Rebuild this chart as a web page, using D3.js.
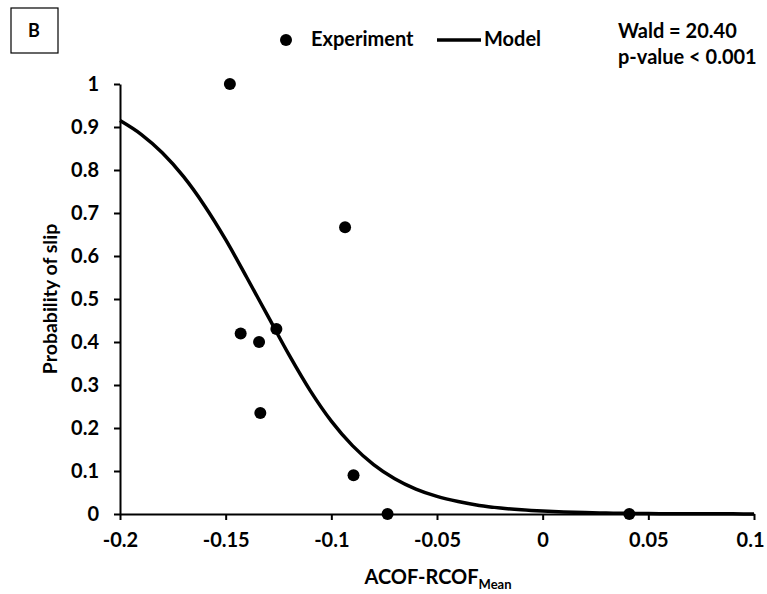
<!DOCTYPE html>
<html>
<head>
<meta charset="utf-8">
<script src="https://cdn.jsdelivr.net/npm/d3@7"></script>
<style>
  body { margin: 0; background: #fff; }
  text { font-family: Lato, "Open Sans", sans-serif; font-weight: 700; fill: #000; }
</style>
</head>
<body>
<div id="chart"></div>
<script>
// experiment points (ACOF-RCOF mean vs probability of slip)
const expX = [-0.148, -0.1429, -0.1342, -0.126, -0.1336, -0.0935, -0.0895, -0.0734, 0.041];
const expY = [1, 0.42, 0.40, 0.43, 0.235, 0.667, 0.09, 0, 0];

// model curve
const modelX = [-0.2, -0.19, -0.18, -0.17, -0.16, -0.15, -0.14, -0.13, -0.12, -0.11,
  -0.1, -0.09, -0.08, -0.07, -0.06, -0.05, -0.04, -0.03, -0.02, -0.01,
  0, 0.01, 0.02, 0.03, 0.04, 0.05, 0.06, 0.07, 0.08, 0.09, 0.1];
const modelY = [0.915, 0.883, 0.840, 0.785, 0.717, 0.638, 0.550, 0.460, 0.370, 0.287,
  0.216, 0.159, 0.115, 0.082, 0.058, 0.041, 0.029, 0.020, 0.014, 0.0097,
  0.0067, 0.0046, 0.0032, 0.0022, 0.0015, 0.0011, 0.0007, 0.0005, 0.0004, 0.0003, 0.0002];

const xTicks = [-0.2, -0.15, -0.1, -0.05, 0, 0.05, 0.1];
const yTicks = [0, 0.1, 0.2, 0.3, 0.4, 0.5, 0.6, 0.7, 0.8, 0.9, 1];

const svgWidth = 767;
const svgHeight = 594;

const margin = { top: 84, right: 13, bottom: 80, left: 120 };
const width = svgWidth - margin.left - margin.right;
const height = svgHeight - margin.top - margin.bottom;

const svg = d3.select("#chart")
  .append("svg")
  .attr("width", svgWidth)
  .attr("height", svgHeight);

const chartGroup = svg.append("g")
  .attr("transform", `translate(${margin.left}, ${margin.top})`);

const xScale = d3.scaleLinear().domain([-0.2, 0.1]).range([0, width]);
const yScale = d3.scaleLinear().domain([0, 1]).range([height, 0]);

// axes
const bottomAxis = d3.axisBottom(xScale)
  .tickValues(xTicks)
  .tickSize(6)
  .tickSizeOuter(0)
  .tickPadding(13)
  .tickFormat(d => String(+d.toFixed(2)));

const leftAxis = d3.axisLeft(yScale)
  .tickValues(yTicks)
  .tickSize(6)
  .tickSizeOuter(0)
  .tickPadding(15)
  .tickFormat(d => String(+d.toFixed(1)));

const xAxis = chartGroup.append("g")
  .attr("transform", `translate(0, ${height})`)
  .call(bottomAxis);

const yAxis = chartGroup.append("g")
  .call(leftAxis);

[xAxis, yAxis].forEach(ax => {
  ax.selectAll("path, line").attr("stroke", "#000").attr("stroke-width", 2);
  ax.selectAll("text").style("font-size", "20px").style("font-family", "Lato").style("font-weight", 700);
});

// last x label sits at the page edge, nudge it in
xAxis.selectAll(".tick text").filter(d => d === 0.1).attr("dx", -4);

// model line
const modelData = modelX.map((x, i) => [x, modelY[i]]);
const line = d3.line()
  .x(d => xScale(d[0]))
  .y(d => yScale(d[1]))
  .curve(d3.curveMonotoneX);

chartGroup.append("path")
  .datum(modelData)
  .attr("fill", "none")
  .attr("stroke", "#000")
  .attr("stroke-width", 3.5)
  .attr("d", line);

// experiment points
const expData = expX.map((x, i) => [x, expY[i]]);
chartGroup.selectAll("circle")
  .data(expData)
  .enter()
  .append("circle")
  .attr("cx", d => xScale(d[0]))
  .attr("cy", d => yScale(d[1]))
  .attr("r", 6)
  .attr("fill", "#000");

// axis titles
svg.append("text")
  .attr("transform", "rotate(-90)")
  .attr("x", -(margin.top + height / 2))
  .attr("y", 57)
  .attr("text-anchor", "middle")
  .style("font-size", "19.5px")
  .text("Probability of slip");

const xLabel = svg.append("text")
  .attr("x", 438)
  .attr("y", 584)
  .attr("text-anchor", "middle")
  .style("font-size", "20px");
xLabel.append("tspan").text("ACOF-RCOF");
xLabel.append("tspan").attr("dy", 5).style("font-size", "13px").text("Mean");

// legend
svg.append("circle").attr("cx", 286).attr("cy", 40).attr("r", 6).attr("fill", "#000");
svg.append("text").attr("x", 311).attr("y", 46).style("font-size", "20px").text("Experiment");
svg.append("line")
  .attr("x1", 437).attr("x2", 481).attr("y1", 40).attr("y2", 40)
  .attr("stroke", "#000").attr("stroke-width", 3.5);
svg.append("text").attr("x", 484).attr("y", 46).style("font-size", "20px").text("Model");

// statistics
svg.append("text").attr("x", 618).attr("y", 38).style("font-size", "20px").text("Wald = 20.40");
svg.append("text").attr("x", 618).attr("y", 64).style("font-size", "20px").text("p-value < 0.001");

// panel tag
svg.append("rect")
  .attr("x", 11).attr("y", 8).attr("width", 47).attr("height", 45)
  .attr("fill", "none").attr("stroke", "#000").attr("stroke-width", 1.2);
svg.append("text").attr("x", 34).attr("y", 37).attr("text-anchor", "middle")
  .style("font-size", "18px").text("B");
</script>
</body>
</html>
